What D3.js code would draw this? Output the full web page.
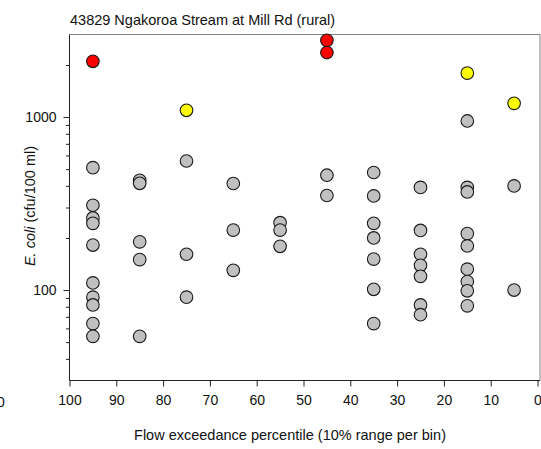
<!DOCTYPE html>
<html>
<head>
<meta charset="utf-8">
<script src="https://cdn.jsdelivr.net/npm/d3@7"></script>
<style>
  html, body { margin: 0; padding: 0; background: #ffffff; }
  svg { display: block; font-family: "Liberation Sans", Arial, sans-serif; }
</style>
</head>
<body>
<svg id="chart" width="541" height="449"></svg>
<script>
// Flow bins (centre of each 10% exceedance range)
const binCentres = [95, 85, 75, 65, 55, 45, 35, 25, 15, 5];

// E. coli samples per bin (cfu/100 ml), split by colour band
const greyValues = [
  [510, 309, 261, 243, 182, 110, 91, 82, 64, 54],
  [431, 414, 190, 150, 54],
  [557, 161, 91],
  [413, 222, 130],
  [245, 222, 179],
  [461, 352],
  [478, 350, 243, 200, 151, 101, 64],
  [392, 221, 161, 139, 120, 82, 72],
  [949, 392, 369, 212, 180, 132, 112, 99, 81],
  [400, 100]
];
const yellowValues = [[], [], [1094], [], [], [], [], [], [1795], [1200]];
const redValues = [[2100], [], [], [], [], [2775, 2360], [], [], [], []];

const xTicks = [100, 90, 80, 70, 60, 50, 40, 30, 20, 10, 0];
const yMajorTicks = [100, 1000];
const yMinorTicks = [40, 50, 60, 70, 80, 90, 200, 300, 400, 500, 600, 700, 800, 900, 2000];

const titleText = "43829 Ngakoroa Stream at Mill Rd (rural)";
const xLabelText = "Flow exceedance percentile (10% range per bin)";

const svg = d3.select("#chart");

const plotLeft = 69.5, plotRight = 540, plotTop = 34.5, plotBottom = 380.5;

const x = d3.scaleLinear().domain([100, 0]).range([plotLeft, 537.5]);
const y = d3.scaleLog().domain([30, 3000]).range([plotBottom, plotTop]);

// Plot frame (top and right edges)
svg.append("path")
  .attr("d", `M${plotLeft},${plotTop}H${plotRight}V${plotBottom}`)
  .attr("fill", "none")
  .attr("stroke", "#808080")
  .attr("stroke-width", 1);

// X axis
const xAxis = svg.append("g")
  .attr("transform", `translate(0,${plotBottom})`)
  .call(d3.axisBottom(x).tickValues(xTicks).tickFormat(d3.format("d")).tickSizeOuter(0).tickSize(6).tickPadding(9));
xAxis.select(".domain").attr("d", `M${plotLeft},0H${plotRight}`).attr("stroke", "#222");
xAxis.selectAll(".tick line").attr("stroke", "#222");
xAxis.selectAll("text").attr("font-size", 14).attr("fill", "#111")
  .attr("font-family", "'Liberation Sans', Arial, sans-serif");

// Y axis: major ticks with labels
const yAxis = svg.append("g")
  .attr("transform", `translate(${plotLeft},0)`)
  .call(d3.axisLeft(y).tickValues(yMajorTicks).tickFormat(d3.format("d")).tickSizeOuter(0).tickSize(6).tickPadding(7));
yAxis.select(".domain").attr("d", `M0,${plotTop}V${plotBottom}`).attr("stroke", "#222");
yAxis.selectAll(".tick line").attr("stroke", "#222");
yAxis.selectAll("text").attr("font-size", 14).attr("fill", "#111")
  .attr("font-family", "'Liberation Sans', Arial, sans-serif");

// Y axis minor ticks
const yMinor = svg.append("g")
  .attr("transform", `translate(${plotLeft},0)`)
  .call(d3.axisLeft(y).tickValues(yMinorTicks).tickFormat("").tickSizeOuter(0).tickSize(3.5));
yMinor.select(".domain").remove();
yMinor.selectAll(".tick line").attr("stroke", "#222");

// Points
function drawSeries(values, fill) {
  const pts = [];
  values.forEach((arr, i) => arr.forEach(v => pts.push({ bin: binCentres[i], value: v })));
  svg.append("g").selectAll("circle")
    .data(pts)
    .join("circle")
    .attr("cx", d => x(d.bin))
    .attr("cy", d => y(d.value))
    .attr("r", 6.3)
    .attr("fill", fill)
    .attr("stroke", "#1a1a1a")
    .attr("stroke-width", 1.1);
}
drawSeries(greyValues, "#c0c0c0");
drawSeries(yellowValues, "#ffff00");
drawSeries(redValues, "#ff0000");

// Title
svg.append("text")
  .attr("x", 70)
  .attr("y", 25)
  .attr("font-size", 14.5)
  .attr("fill", "#111")
  .text(titleText);

// X axis label
svg.append("text")
  .attr("x", 290)
  .attr("y", 440)
  .attr("text-anchor", "middle")
  .attr("font-size", 14.5)
  .attr("fill", "#111")
  .text(xLabelText);

// Y axis label
const yLabel = svg.append("text")
  .attr("transform", "translate(35,206) rotate(-90)")
  .attr("text-anchor", "middle")
  .attr("font-size", 14.5)
  .attr("fill", "#111");
yLabel.append("tspan").attr("font-style", "italic").attr("fill", "#111").text("E. coli");
yLabel.append("tspan").attr("fill", "#111").text(" (cfu/100 ml)");

// Tick label of the neighbouring panel, cut by the left edge
svg.append("text")
  .attr("x", -3)
  .attr("y", 407)
  .attr("font-size", 14)
  .attr("fill", "#111")
  .text("0");
</script>
</body>
</html>
